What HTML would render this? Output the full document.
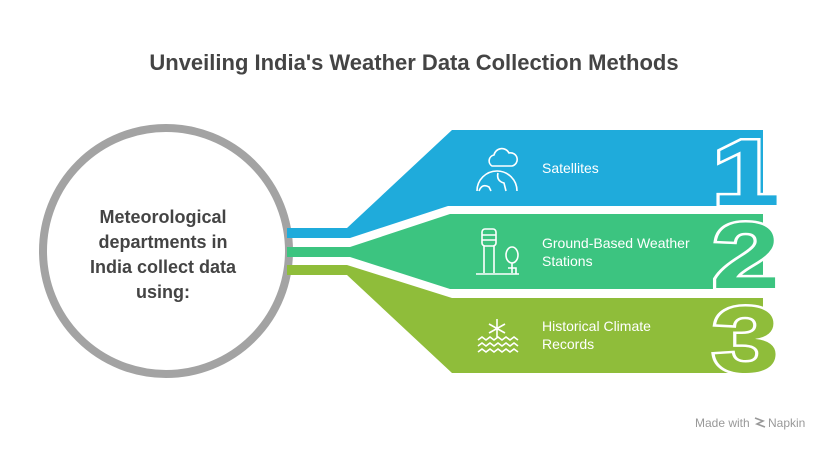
<!DOCTYPE html>
<html><head><meta charset="utf-8"><style>
body{margin:0;background:#fff;}
svg{display:block;font-family:"Liberation Sans",sans-serif;}
</style></head><body>
<svg width="828" height="450" viewBox="0 0 828 450" xmlns="http://www.w3.org/2000/svg">
<text x="414" y="70" text-anchor="middle" font-size="22" font-weight="bold" fill="#444">Unveiling India's Weather Data Collection Methods</text>
<circle cx="166" cy="251" r="123" fill="none" stroke="#a3a3a3" stroke-width="8"/>
<g font-size="18" font-weight="bold" fill="#444" text-anchor="middle">
<text x="163" y="223">Meteorological</text>
<text x="163" y="248">departments in</text>
<text x="163" y="273">India collect data</text>
<text x="163" y="298">using:</text>
</g>
<polygon points="287,228 347,228 452,130 763,130 763,206 448,206 350,238 287,238" fill="#1fabdb"/>
<polygon points="287,247 350,247 450,214 763,214 763,289 450,289 350,257 287,257" fill="#3cc480"/>
<polygon points="287,265 347,265 452,298 763,298 763,373 452,373 347,275 287,275" fill="#8fbd3a"/>
<g font-size="94" font-weight="bold" stroke="#fff" stroke-width="5" paint-order="stroke" text-anchor="middle">
<text transform="translate(746,205) scale(1.3,1)" fill="#1fabdb">1</text>
<text transform="translate(746,288) scale(1.3,1)" fill="#3cc480">2</text>
<text transform="translate(746,372) scale(1.3,1)" fill="#8fbd3a">3</text>
</g>
<g font-size="14" fill="#fff">
<text x="542" y="173">Satellites</text>
<text x="542" y="248">Ground-Based Weather</text>
<text x="542" y="266">Stations</text>
<text x="542" y="331">Historical Climate</text>
<text x="542" y="349">Records</text>
</g>
<g fill="none" stroke="#fff" stroke-width="1.6">
<path d="M492,166 a6,6 0 0 1 2,-11 a8,8 0 0 1 15,-2 a6,6 0 0 1 3,13 z"/>
<path d="M477,191 a20,20 0 0 1 40,0 M479,191 q3,-8 10,-4 l2,4 M498,173 q-2,8 6,10 l2,8"/>
<rect x="482" y="229" width="14" height="17" rx="3"/>
<path d="M482,235 h14 M482,240 h14 M484,246 v27 M494,246 v27 M476,274 h43"/>
<ellipse cx="512" cy="255" rx="6" ry="8"/>
<path d="M512,263 v10 M508,268 h8 v6"/>
<path d="M497,319 v18 M489,324 l16,9 M505,324 l-16,9"/>
<path d="M478,340 l4,-3 4,3 4,-3 4,3 4,-3 4,3 4,-3 4,3 4,-3 4,3 M478,346 l4,-3 4,3 4,-3 4,3 4,-3 4,3 4,-3 4,3 4,-3 4,3 M478,352 l4,-3 4,3 4,-3 4,3 4,-3 4,3 4,-3 4,3 4,-3 4,3"/>
</g>
<text x="695" y="427" font-size="12" fill="#999">Made with</text>
<path d="M755,418 l8,3 -6,3 8,3" fill="none" stroke="#999" stroke-width="1.6"/>
<text x="768" y="427" font-size="12" fill="#999">Napkin</text>
</svg>
</body></html>
